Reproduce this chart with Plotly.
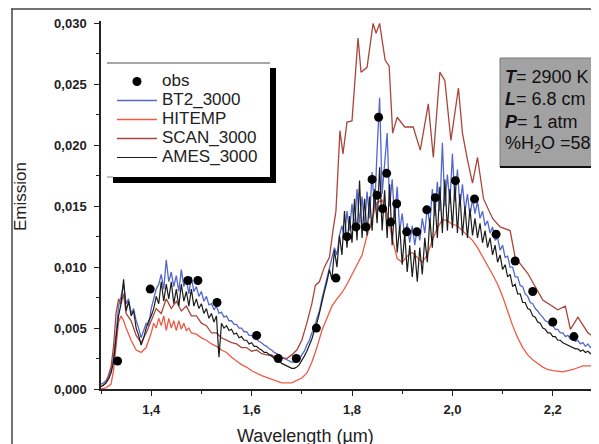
import numpy as np
import plotly.graph_objects as go

# ---------------- data (emission values in units of 1e-3) ----------------
grid_start, grid_step = 1.300, 0.005

bt2_milli = [
    0.4, 0.5, 0.7, 1.0, 1.5, 2.6, 4.5, 6.8, 7.6, 8.6,
    7.0, 7.4, 6.2, 6.6, 5.6, 5.0, 4.2, 4.8, 5.4, 5.2,
    6.6, 7.4, 8.2, 8.6, 9.4, 8.2, 10.6, 8.8, 9.6, 8.4,
    9.3, 8.0, 9.8, 8.4, 9.0, 7.8, 9.2, 8.0, 8.4, 7.6,
    8.0, 7.2, 7.6, 6.9, 7.0, 6.5, 6.8, 6.2, 6.3, 5.9,
    6.0, 5.6, 5.6, 5.3, 5.3, 5.0, 5.0, 4.7, 4.7, 4.4,
    4.4, 4.1, 4.1, 3.9, 3.8, 3.6, 3.5, 3.3, 3.2, 3.0,
    2.9, 2.8, 2.6, 2.5, 2.4, 2.3, 2.2, 2.2, 2.3, 2.4,
    2.8, 3.1, 3.6, 4.0, 4.6, 5.0, 5.8, 6.4, 7.4, 8.2,
    9.0, 10.0, 10.6, 11.6, 11.0, 12.6, 13.4, 12.4, 14.6, 13.0,
    15.2, 13.2, 16.4, 13.6, 15.8, 13.4, 16.2, 14.0, 17.8, 14.6,
    19.6, 23.9, 16.0, 18.4, 21.0, 15.0, 17.2, 14.0, 16.6, 13.0,
    14.4, 12.4, 13.6, 12.0, 13.4, 11.8, 13.2, 12.2, 14.0, 12.8,
    15.0, 13.4, 16.4, 14.2, 17.0, 14.6, 20.2, 15.0, 17.6, 15.2,
    19.3, 15.4, 18.0, 15.0, 16.8, 14.6, 16.0, 14.2, 15.6, 14.4,
    15.4, 14.0, 14.6, 13.4, 13.8, 12.8, 13.3, 12.2, 12.4, 11.4,
    11.8, 10.8, 10.9, 10.0, 10.0, 9.2, 9.2, 8.5, 8.4, 7.8,
    7.6, 7.1, 7.0, 6.6, 6.4, 6.1, 5.9, 5.6, 5.5, 5.2,
    5.2, 4.9, 4.9, 4.6, 4.6, 4.3, 4.4, 4.1, 4.2, 3.9,
    4.0, 3.7, 3.8, 3.5, 3.7, 3.4, 3.6, 3.3, 3.6, 3.4,
    3.5,
]

ames_milli = [
    0.2, 0.3, 0.5, 0.8, 1.3, 2.2, 4.2, 6.0, 7.0, 9.0,
    6.4, 7.2, 6.0, 6.4, 5.0, 4.4, 3.6, 4.2, 5.0, 5.6,
    6.0, 6.6, 7.6, 7.0, 8.8, 7.2, 8.6, 7.4, 8.8, 7.0,
    8.2, 6.8, 8.6, 7.2, 8.0, 6.8, 8.2, 6.8, 7.4, 6.6,
    7.0, 6.2, 6.6, 5.8, 6.2, 5.5, 6.0, 2.6, 5.4, 5.0,
    5.2, 4.8, 4.9, 4.5, 4.6, 4.2, 4.3, 4.0, 4.0, 3.7,
    3.8, 3.5, 3.5, 3.3, 3.2, 3.0, 3.0, 2.8, 2.7, 2.5,
    2.4, 2.3, 2.1, 2.0, 1.9, 1.8, 1.7, 1.7, 1.8, 2.0,
    2.3, 2.7, 3.1, 3.6, 4.1, 4.8, 5.4, 6.2, 7.2, 8.0,
    8.8, 9.8, 9.0, 11.4, 10.0, 12.6, 11.0, 14.6, 11.6, 14.2,
    12.0, 15.6, 12.2, 17.1, 12.4, 15.6, 12.6, 15.8, 13.0, 16.4,
    13.6, 18.2, 13.0, 16.3, 12.4, 16.8, 11.8, 15.2, 11.2, 13.4,
    10.2, 12.8, 9.6, 11.8, 9.2, 11.4, 8.8, 11.6, 9.4, 12.4,
    10.4, 14.0, 11.6, 15.6, 12.4, 16.6, 12.8, 17.2, 13.0, 16.4,
    13.2, 16.8, 12.8, 16.0, 12.6, 15.0, 12.4, 14.8, 12.6, 14.0,
    12.4, 13.6, 12.0, 13.0, 11.6, 12.4, 11.0, 11.8, 10.4, 11.0,
    9.8, 10.2, 9.2, 9.4, 8.4, 8.6, 7.8, 7.8, 7.1, 7.1,
    6.6, 6.5, 6.0, 5.9, 5.5, 5.4, 5.0, 4.9, 4.6, 4.6,
    4.3, 4.3, 4.0, 4.0, 3.8, 3.7, 3.6, 3.5, 3.4, 3.3,
    3.3, 3.1, 3.2, 3.0, 3.1, 2.9, 3.0, 2.8, 2.9, 2.8,
    2.9,
]

hitemp_wl = [
    1.300, 1.310, 1.320, 1.325, 1.330, 1.335, 1.340, 1.345, 1.350, 1.360,
    1.370, 1.380, 1.390, 1.400, 1.405, 1.410, 1.415, 1.420, 1.425, 1.430,
    1.435, 1.440, 1.445, 1.450, 1.455, 1.460, 1.465, 1.470, 1.475, 1.480,
    1.490, 1.500, 1.510, 1.520, 1.530, 1.540, 1.550, 1.560, 1.570, 1.580,
    1.590, 1.600, 1.620, 1.640, 1.660, 1.680, 1.700, 1.710, 1.720, 1.730,
    1.740, 1.750, 1.760, 1.770, 1.780, 1.790, 1.800, 1.810, 1.820, 1.830,
    1.840, 1.850, 1.860, 1.870, 1.880, 1.890, 1.900, 1.910, 1.920, 1.930,
    1.940, 1.950, 1.960, 1.970, 1.980, 1.990, 2.000, 2.010, 2.020, 2.030,
    2.040, 2.050, 2.060, 2.070, 2.080, 2.090, 2.100, 2.110, 2.120, 2.130,
    2.140, 2.150, 2.160, 2.170, 2.180, 2.190, 2.200, 2.220, 2.240, 2.260,
    2.300,
]
hitemp_milli = [
    0.0, 0.1, 0.4, 1.5, 3.5, 5.5, 6.0, 5.6, 5.0, 4.0,
    3.2, 3.0, 3.4, 4.6, 5.4, 5.0, 5.8, 5.2, 6.0, 4.8,
    5.8, 5.0, 5.6, 4.8, 5.6, 4.9, 5.4, 4.8, 5.0, 4.6,
    4.5, 4.2, 4.0, 3.7, 3.5, 3.2, 3.0, 2.6, 2.3, 2.0,
    1.8, 1.5, 1.1, 0.8, 0.5, 0.5, 0.9, 1.3, 2.2, 3.4,
    4.8, 5.8, 6.8, 7.4, 7.9, 8.6, 9.4, 10.2, 11.0, 12.6,
    14.0, 15.3, 15.5, 14.4, 12.4, 10.7, 10.4, 10.9, 11.2, 10.8,
    10.4, 11.0, 12.2, 13.2, 13.9, 13.8, 13.5, 13.4, 13.0, 12.6,
    12.2, 11.6, 10.9, 10.1, 9.4, 8.6, 7.6, 6.4, 5.2, 4.2,
    3.4, 2.8, 2.4, 2.1, 1.8, 1.6, 1.5, 1.4, 1.6, 1.9,
    1.9,
]

scan_wl = [
    1.300, 1.310, 1.320, 1.325, 1.330, 1.335, 1.340, 1.345, 1.350, 1.360,
    1.370, 1.380, 1.390, 1.400, 1.410, 1.420, 1.430, 1.440, 1.450, 1.460,
    1.470, 1.480, 1.490, 1.500, 1.510, 1.520, 1.530, 1.540, 1.550, 1.560,
    1.570, 1.580, 1.590, 1.600, 1.610, 1.620, 1.630, 1.640, 1.650, 1.660,
    1.670, 1.680, 1.690, 1.700, 1.710, 1.720, 1.727, 1.735, 1.745, 1.755,
    1.762, 1.768, 1.776, 1.782, 1.790, 1.800, 1.812, 1.818, 1.830, 1.842,
    1.848, 1.855, 1.866, 1.874, 1.881, 1.890, 1.905, 1.922, 1.936, 1.952,
    1.962, 1.975, 1.985, 1.997, 2.012, 2.020, 2.030, 2.040, 2.050, 2.062,
    2.080, 2.095, 2.115, 2.125, 2.150, 2.180, 2.210, 2.225, 2.235, 2.250,
    2.270, 2.300,
]
scan_milli = [
    0.2, 0.5, 1.8, 3.5, 6.2, 7.4, 7.0, 7.8, 6.2, 5.6,
    4.4, 3.8, 4.6, 5.6, 6.6, 6.2, 7.4, 6.6, 7.2, 6.4,
    6.8, 6.0, 6.0, 5.4, 5.2, 4.6, 4.6, 4.2, 4.0, 3.8,
    3.7, 3.4, 3.4, 3.1, 3.2, 2.9, 2.8, 2.8, 2.5, 2.6,
    2.5, 2.8, 3.2, 4.0, 5.4, 7.0, 8.5, 8.8, 10.0, 10.8,
    13.0, 14.6, 21.2, 19.3, 21.9, 22.0, 28.8, 26.0, 26.4, 30.0,
    29.2, 30.0, 27.0, 26.5, 21.0, 22.3, 21.5, 21.5, 19.6, 23.4,
    19.0, 26.0, 25.3, 20.4, 24.7, 21.0, 18.8, 16.9, 19.0, 15.6,
    14.0, 13.3, 13.0, 10.8, 9.5, 7.3, 6.5, 6.8, 4.9, 5.9,
    4.6, 3.8,
]

obs_wl = [
    1.333, 1.398, 1.473, 1.493, 1.531, 1.610, 1.653, 1.689, 1.729, 1.768,
    1.790, 1.808, 1.828, 1.840, 1.850, 1.853, 1.861, 1.869, 1.877, 1.889,
    1.909, 1.929, 1.949, 1.966, 2.006, 2.044, 2.087, 2.125, 2.160, 2.200,
    2.242,
]
obs_milli = [
    2.3, 8.2, 8.9, 8.9, 7.1, 4.4, 2.5, 2.5, 5.0, 9.1,
    12.5, 13.3, 13.3, 17.2, 15.9, 22.3, 14.8, 17.7, 13.7, 15.2,
    12.9, 12.9, 14.7, 15.7, 17.1, 15.6, 12.7, 10.5, 8.0, 5.5,
    4.3,
]

x_ticks = [1.4, 1.6, 1.8, 2.0, 2.2]
y_ticks = [0.000, 0.005, 0.010, 0.015, 0.020, 0.025, 0.030]

# ---------------- build series ----------------
grid_wl = np.round(grid_start + grid_step * np.arange(len(bt2_milli)), 3)
to_unit = 1e-3
bt2 = np.asarray(bt2_milli) * to_unit
ames = np.asarray(ames_milli) * to_unit
hitemp = np.asarray(hitemp_milli) * to_unit
scan = np.asarray(scan_milli) * to_unit
obs = np.asarray(obs_milli) * to_unit

# page has an 8px body margin; figure sized so the plot lands where the reference has it
OFF = 8
W, H = 599 - OFF, 444 - OFF
ML, MR, MT, MB = 93, 0, 13, 55
PW, PH = W - ML - MR, H - MT - MB


def px(x):
    """page pixel x -> paper coordinate"""
    return (x - OFF - ML) / PW


def py(y):
    """page pixel y -> paper coordinate"""
    return 1 - (y - OFF - MT) / PH


FONT = "Liberation Sans, Arial, sans-serif"


def big(s):
    return "<span style='font-size:17px'>" + s + "</span>"


fig = go.Figure()
fig.add_trace(go.Scatter(x=grid_wl, y=bt2, mode="lines", name=big("BT2_3000"),
                         line=dict(color="#5468cc", width=1.3), legendrank=2))
fig.add_trace(go.Scatter(x=hitemp_wl, y=hitemp, mode="lines", name=big("HITEMP"),
                         line=dict(color="#ee5a44", width=1.3), legendrank=3))
fig.add_trace(go.Scatter(x=scan_wl, y=scan, mode="lines", name=big("SCAN_3000"),
                         line=dict(color="#a8463c", width=1.3), legendrank=4))
fig.add_trace(go.Scatter(x=grid_wl, y=ames, mode="lines", name=big("AMES_3000"),
                         line=dict(color="#1c1c1c", width=1.2), legendrank=5))
fig.add_trace(go.Scatter(x=obs_wl, y=obs, mode="markers", name=big("obs"),
                         marker=dict(color="black", size=9), legendrank=1))

shapes = [
    # outer frame
    dict(type="line", xref="paper", yref="paper", x0=px(11), x1=px(600), y0=py(9), y1=py(9),
         line=dict(color="#444", width=1.5)),
    dict(type="line", xref="paper", yref="paper", x0=px(12), x1=px(12), y0=py(9), y1=py(445),
         line=dict(color="#444", width=1.5)),
    # legend box with shadow
    dict(type="rect", xref="paper", yref="paper", x0=px(113), x1=px(276), y0=py(68), y1=py(183),
         fillcolor="black", line=dict(width=0), layer="above"),
    dict(type="rect", xref="paper", yref="paper", x0=px(107), x1=px(270), y0=py(63), y1=py(177),
         fillcolor="white", line=dict(width=0), layer="above"),
    dict(type="line", xref="paper", yref="paper", x0=px(107), x1=px(270), y0=py(63), y1=py(63),
         line=dict(color="#888", width=1.5), layer="above"),
    dict(type="line", xref="paper", yref="paper", x0=px(107), x1=px(113), y0=py(177), y1=py(177),
         line=dict(color="#888", width=1), layer="above"),
    # parameter box
    dict(type="rect", xref="paper", yref="paper", x0=px(500), x1=px(605), y0=py(58), y1=py(167),
         fillcolor="#a2a2a2", line=dict(color="#7a7a7a", width=1), layer="above"),
    dict(type="line", xref="paper", yref="paper", x0=px(500), x1=px(605), y0=py(167), y1=py(167),
         line=dict(color="#111", width=2), layer="above"),
]

annotations = [
    dict(text="Emission", x=px(20), y=py(197), xref="paper", yref="paper", textangle=-90,
         showarrow=False, font=dict(family=FONT, size=17, color="#222"),
         xanchor="center", yanchor="middle"),
    dict(text="Wavelength (µm)", x=px(305), y=py(436), xref="paper", yref="paper",
         showarrow=False, font=dict(family=FONT, size=18, color="#222"),
         xanchor="center", yanchor="middle"),
]
box_lines = [
    ("<b><i>T</i></b>= 2900 K", 77),
    ("<b><i>L</i></b>= 6.8 cm", 99),
    ("<b><i>P</i></b>= 1 atm", 122),
    ("%H<sub>2</sub>O =58", 145),
]
for txt, yy in box_lines:
    annotations.append(dict(text=txt, x=px(503), y=py(yy), xref="paper", yref="paper",
                            showarrow=False, xanchor="left", yanchor="middle",
                            font=dict(family=FONT, size=18, color="#111")))

tickfont = dict(family="Liberation Sans, Arial, sans-serif", size=13, color="#222", weight="bold")

fig.update_layout(
    width=W, height=H,
    margin=dict(l=ML, r=MR, t=MT, b=MB),
    paper_bgcolor="white", plot_bgcolor="white",
    separators=",.",
    showlegend=True,
    legend=dict(x=px(112), y=py(67), xanchor="left", yanchor="top",
                bgcolor="rgba(0,0,0,0)", borderwidth=0,
                font=dict(family=FONT, size=12, color="#222"),
                itemwidth=40, tracegroupgap=0),
    shapes=shapes,
    annotations=annotations,
    xaxis=dict(range=[1.3, 2.292], tickvals=x_ticks, tickformat=".1f",
               showline=True, linecolor="#222", linewidth=1.5, mirror=False,
               ticks="outside", ticklen=5, tickwidth=1.3, tickcolor="#222",
               minor=dict(dtick=0.1, ticks="outside", ticklen=3, tickcolor="#222"),
               showgrid=False, zeroline=False, ticklabelstandoff=3,
               tickfont=tickfont),
    yaxis=dict(range=[0, 0.0302], tickvals=y_ticks, tickformat=".3f",
               showline=True, linecolor="#222", linewidth=1.5, mirror=False,
               ticks="outside", ticklen=5, tickwidth=1.3, tickcolor="#222",
               minor=dict(dtick=0.0025, ticks="outside", ticklen=3, tickcolor="#222"),
               showgrid=False, zeroline=False, ticklabelstandoff=5,
               tickfont=tickfont),
)

fig.write_html("out.html")
